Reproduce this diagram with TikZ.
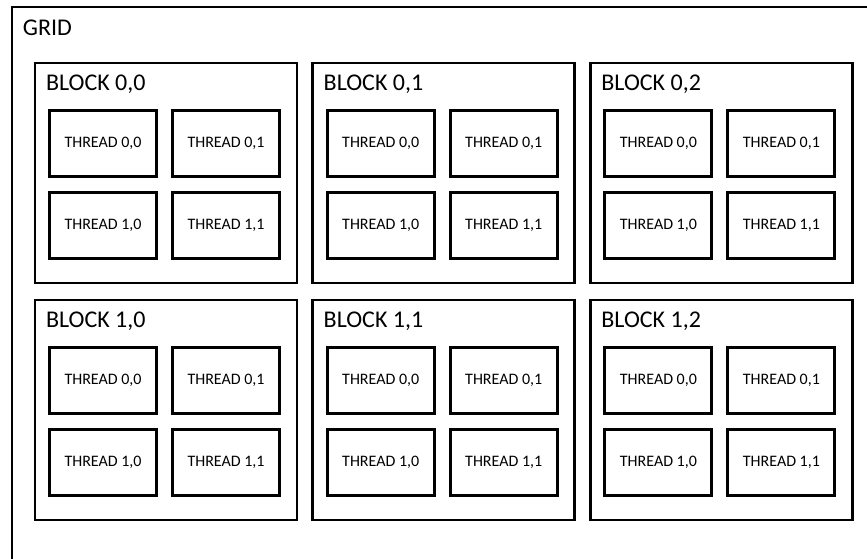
\documentclass[tikz,border=0pt]{standalone}
\usepackage{fontspec}
\setmainfont{Carlito}
\usetikzlibrary{positioning, calc}

\begin{document}
\begin{tikzpicture}[x=0.75pt, y=-0.75pt, line width=2.2pt,
    box/.style={draw, rectangle, inner sep=0pt},
    block/.style={box, minimum width=196.5pt, minimum height=165pt},
    thread/.style={box, minimum width=80.25pt, minimum height=49.5pt, font=\fontsize{12}{14}\selectfont},
    title/.style={anchor=base west, inner sep=0pt, font=\fontsize{18}{22}\selectfont}]
    \useasboundingbox (0,0) rectangle (867,558);
    \clip (0,0) rectangle (867,558);
    \node[box, anchor=north west, minimum width=700pt, minimum height=450pt] (grid) at (10.5,5.5) {};
    \node[title] (grid label) at ($(grid.north west)+(11,30)$) {GRID};
    \foreach \i in {0,1} {
      \foreach \j in {0,1,2} {
        \node[block] (b\i\j) at (166+277.7*\j, 173+237*\i) {};
        \node[title] (b\i\j label) at ($(b\i\j.north west)+(11,29)$) {BLOCK \i,\j};
        \foreach \r in {0,1} {
          \foreach \c in {0,1} {
            \node[thread] (b\i\j t\r\c) at ($(b\i\j.north west)+(69.5+123*\c, 82+82*\r)$) {THREAD \r,\c};
          }
        }
      }
    }
\end{tikzpicture}
\end{document}
